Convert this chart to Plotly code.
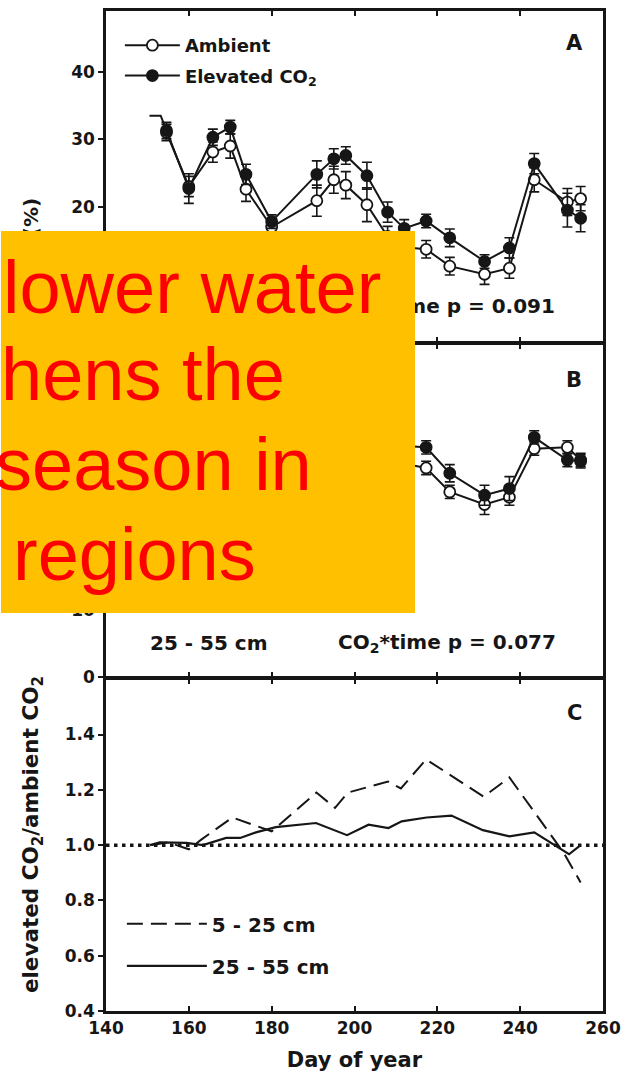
import plotly.graph_objects as go

# ---------------- data ----------------
days = [154.6, 160, 165.8, 170, 173.8, 180, 190.9, 195, 197.9, 203, 208, 212,
        217.3, 223, 231.4, 237.4, 243.4, 251.4, 254.6]

lead_days = [150.5, 153.2, 154.6]
lead_vals = [33.5, 33.5, 31.3]

amb_A = [31.0, 23.0, 28.1, 29.0, 22.6, 17.0, 20.9, 24.0, 23.2, 20.3, 15.6, 14.0,
         13.7, 11.2, 10.0, 10.9, 24.0, 20.7, 21.2]
amb_A_err = [1.2, 1.5, 1.5, 1.8, 1.8, 1.2, 2.3, 2.0, 2.0, 2.5, 1.5, 1.5,
             1.3, 1.3, 1.5, 1.5, 1.8, 2.0, 1.8]
elev_A = [31.3, 22.7, 30.3, 31.8, 24.8, 17.8, 24.8, 27.1, 27.6, 24.6, 19.2, 16.8,
          17.9, 15.4, 11.9, 13.9, 26.4, 19.5, 18.3]
elev_A_err = [1.2, 2.2, 1.2, 1.0, 1.5, 1.0, 2.0, 1.5, 1.3, 2.0, 1.5, 1.3,
              1.0, 1.3, 1.0, 1.5, 1.5, 2.5, 2.0]

amb_B = [38.0, 36.5, 38.0, 39.0, 37.0, 33.5, 34.0, 35.0, 35.0, 33.0, 32.5, 32.0,
         31.4, 27.8, 25.9, 27.0, 34.3, 34.5, 32.6]
amb_B_err = [1.0, 1.0, 1.0, 1.0, 1.0, 1.2, 1.2, 1.2, 1.2, 1.2, 1.2, 1.2,
             1.0, 1.0, 1.5, 1.2, 1.0, 1.0, 1.0]
elev_B = [38.2, 36.8, 38.6, 39.6, 38.3, 35.6, 36.5, 36.9, 36.3, 35.5, 34.6, 34.7,
          34.5, 30.6, 27.3, 28.3, 36.0, 32.6, 32.4]
elev_B_err = [1.0, 1.0, 1.0, 1.0, 1.0, 1.2, 1.2, 1.2, 1.2, 1.2, 1.2, 1.2,
              1.0, 1.3, 1.5, 1.8, 1.0, 1.0, 1.0]

ratio_shallow_days = [151, 155, 160, 163, 170.5, 180, 190.8, 195.3, 198.4, 208.1,
                      211.2, 217.3, 231.2, 237.4, 250.6, 254.6]
ratio_shallow = [1.0, 1.01, 0.985, 1.02, 1.10, 1.05, 1.19, 1.135, 1.19, 1.23,
                 1.205, 1.31, 1.175, 1.245, 0.97, 0.865]

ratio_deep_days = [150.6, 153, 159.4, 163.4, 169, 172.4, 176.2, 181, 190.7, 198.2,
                   203.4, 208.2, 211.4, 217.4, 223.4, 231, 237.4, 243.4, 251.8, 254.6]
ratio_deep = [1.0, 1.01, 1.008, 1.0, 1.026, 1.026, 1.046, 1.065, 1.08, 1.036,
              1.074, 1.062, 1.086, 1.10, 1.107, 1.054, 1.032, 1.046, 0.967, 1.0]

x_ticks = [140, 160, 180, 200, 220, 240, 260]
y_ticks_AB = [0, 10, 20, 30, 40]
y_labels_A = ["", "", "20", "30", "40"]   # 0 and 10 lie under the overlay box
y_labels_B = ["0", "10", "", "", ""]      # 20-40 lie under the overlay box
y_ticks_C = [0.4, 0.6, 0.8, 1.0, 1.2, 1.4]

# ---------------- styling ----------------
FONT = "DejaVu Sans"
INK = "#161616"
W, H = 629, 1079
ML, MR, MT, MB = 106, 22, 8, 68
PW = W - ML - MR
PH = H - MT - MB
LW = 2.5


def px_x(px):
    return (px - ML) / PW


def px_y(py):
    return (H - MB - py) / PH


fig = go.Figure()

open_marker = dict(symbol="circle", size=11, color="white", line=dict(color=INK, width=1.8))
fill_marker = dict(symbol="circle", size=11, color=INK, line=dict(color=INK, width=1.8))
ebar = dict(type="data", thickness=1.6, width=5, color=INK)

# Panel A
fig.add_trace(go.Scatter(x=lead_days, y=lead_vals, mode="lines", line=dict(color=INK, width=2),
                         showlegend=False, xaxis="x", yaxis="y", hoverinfo="skip"))
fig.add_trace(go.Scatter(x=days, y=amb_A, mode="lines+markers", name="Ambient",
                         line=dict(color=INK, width=2), marker=open_marker,
                         error_y=dict(array=amb_A_err, **ebar),
                         xaxis="x", yaxis="y", legend="legend", legendgroup="a"))
fig.add_trace(go.Scatter(x=days, y=elev_A, mode="lines+markers", name="Elevated CO<sub>2</sub>",
                         line=dict(color=INK, width=2), marker=fill_marker,
                         error_y=dict(array=elev_A_err, **ebar),
                         xaxis="x", yaxis="y", legend="legend", legendgroup="b"))
# Panel B
fig.add_trace(go.Scatter(x=days, y=amb_B, mode="lines+markers", showlegend=False,
                         line=dict(color=INK, width=2), marker=open_marker,
                         error_y=dict(array=amb_B_err, **ebar), xaxis="x2", yaxis="y2"))
fig.add_trace(go.Scatter(x=days, y=elev_B, mode="lines+markers", showlegend=False,
                         line=dict(color=INK, width=2), marker=fill_marker,
                         error_y=dict(array=elev_B_err, **ebar), xaxis="x2", yaxis="y2"))
# Panel C
fig.add_trace(go.Scatter(x=ratio_shallow_days, y=ratio_shallow, mode="lines", name="5 - 25 cm",
                         line=dict(color=INK, width=2, dash="16px,8px"),
                         xaxis="x3", yaxis="y3", legend="legend2", legendgroup="c"))
fig.add_trace(go.Scatter(x=ratio_deep_days, y=ratio_deep, mode="lines", name="25 - 55 cm",
                         line=dict(color=INK, width=2.2),
                         xaxis="x3", yaxis="y3", legend="legend2", legendgroup="d"))

tickfont = dict(family=FONT, size=17, color=INK, weight="bold")

xcommon = dict(range=[140, 260], tickvals=x_ticks, showline=True, linewidth=LW, linecolor=INK,
               mirror="allticks", ticks="inside", ticklen=5, tickwidth=2, tickcolor=INK,
               showgrid=False, zeroline=False, tickfont=tickfont)
ycommon = dict(showline=True, linewidth=LW, linecolor=INK, mirror=True, ticks="outside",
               ticklen=5, tickwidth=2, tickcolor=INK, showgrid=False, zeroline=False,
               tickfont=tickfont)
yright = dict(side="right", ticks="inside", ticklen=5, tickwidth=2, tickcolor=INK,
              showticklabels=False, showline=False, showgrid=False, zeroline=False)

# panel borders at 341 px and 677 px; domains shifted so neighbouring frame lines coincide
dA = [px_y(341 - LW / 2), 1.0]
dB = [px_y(677 - LW / 2), px_y(341 + LW / 2)]
dC = [0.0, px_y(677 + LW / 2)]

fig.update_layout(
    width=W, height=H,
    margin=dict(l=ML, r=MR, t=MT, b=MB),
    paper_bgcolor="white", plot_bgcolor="white",
    font=dict(family=FONT, color=INK),
    xaxis=dict(anchor="y", showticklabels=False, **xcommon),
    xaxis2=dict(anchor="y2", showticklabels=False, matches="x", **xcommon),
    xaxis3=dict(anchor="y3", showticklabels=True, matches="x",
                title=dict(text="Day of year", font=dict(family=FONT, size=21, color=INK, weight="bold"),
                           standoff=16), **xcommon),
    yaxis=dict(domain=dA, range=[0, 49], tickvals=y_ticks_AB, ticktext=y_labels_A, anchor="x", **ycommon),
    yaxis2=dict(domain=dB, range=[0, 50], tickvals=y_ticks_AB, ticktext=y_labels_B, anchor="x2", **ycommon),
    yaxis3=dict(domain=dC, range=[0.4, 1.6], tickvals=y_ticks_C, tickformat=".1f", anchor="x3", **ycommon),
    yaxis4=dict(overlaying="y", anchor="x", range=[0, 49], tickvals=y_ticks_AB, **yright),
    yaxis5=dict(overlaying="y2", anchor="x2", range=[0, 50], tickvals=y_ticks_AB, **yright),
    yaxis6=dict(overlaying="y3", anchor="x3", range=[0.4, 1.6], tickvals=y_ticks_C, **yright),
    legend=dict(x=px_x(120), y=px_y(24), xanchor="left", yanchor="top",
                bgcolor="rgba(0,0,0,0)", font=dict(family=FONT, size=18, color=INK, weight="bold"),
                itemwidth=55, tracegroupgap=4, traceorder="grouped"),
    legend2=dict(x=px_x(122), y=px_y(904), xanchor="left", yanchor="top",
                 bgcolor="rgba(0,0,0,0)", font=dict(family=FONT, size=20, color=INK, weight="bold"),
                 itemwidth=80, tracegroupgap=13, traceorder="grouped"),
    showlegend=True,
)

# dotted reference line at ratio 1.0
fig.add_shape(type="line", xref="x3 domain", x0=0, x1=1, yref="y3", y0=1.0, y1=1.0,
              line=dict(color=INK, width=3.5, dash="3.5px,4.5px"))

bold = lambda s: dict(family=FONT, size=s, color=INK, weight="bold")
annots = [
    # partly covered by the overlay box
    dict(text="Volumetric water content (%)", textangle=-90, xref="paper", yref="paper",
         x=px_x(30), y=px_y(193), xanchor="center", yanchor="top", showarrow=False, font=bold(20)),
    dict(text="CO<sub>2</sub>*time p = 0.091", xref="paper", yref="paper", x=px_x(561), y=px_y(305),
         xanchor="right", yanchor="middle", showarrow=False, font=bold(20)),
    dict(text="25 - 55 cm", xref="paper", yref="paper", x=px_x(148), y=px_y(642),
         xanchor="left", yanchor="middle", showarrow=False, font=bold(20)),
    dict(text="CO<sub>2</sub>*time p = 0.077", xref="paper", yref="paper", x=px_x(562), y=px_y(642),
         xanchor="right", yanchor="middle", showarrow=False, font=bold(20)),
    dict(text="A", xref="paper", yref="paper", x=px_x(578), y=px_y(40),
         xanchor="center", yanchor="middle", showarrow=False, font=bold(21)),
    dict(text="B", xref="paper", yref="paper", x=px_x(578), y=px_y(378),
         xanchor="center", yanchor="middle", showarrow=False, font=bold(21)),
    dict(text="C", xref="paper", yref="paper", x=px_x(578), y=px_y(712),
         xanchor="center", yanchor="middle", showarrow=False, font=bold(21)),
    dict(text="elevated CO<sub>2</sub>/ambient CO<sub>2</sub>", textangle=-90, xref="paper", yref="paper",
         x=px_x(32), y=px_y(834), xanchor="center", yanchor="middle", showarrow=False, font=bold(21.5)),
    # overlay box
    dict(text=" ", xref="paper", yref="paper", x=px_x(0), y=px_y(229), xanchor="left", yanchor="top",
         width=414, height=382, bgcolor="#FFC000", borderpad=0, borderwidth=0, showarrow=False),
]
red = dict(family="Liberation Sans, Arial", size=74, color="#FF0000")
for txt, lx, cy in [("lower water", 0, 285), ("hens the", -2, 373), ("season in", -8, 463), ("regions", 10, 553)]:
    annots.append(dict(text=txt, xref="paper", yref="paper", x=px_x(lx), y=px_y(cy),
                       xanchor="left", yanchor="middle", showarrow=False, font=red))
fig.update_layout(annotations=annots)

fig.write_html("out.html")
